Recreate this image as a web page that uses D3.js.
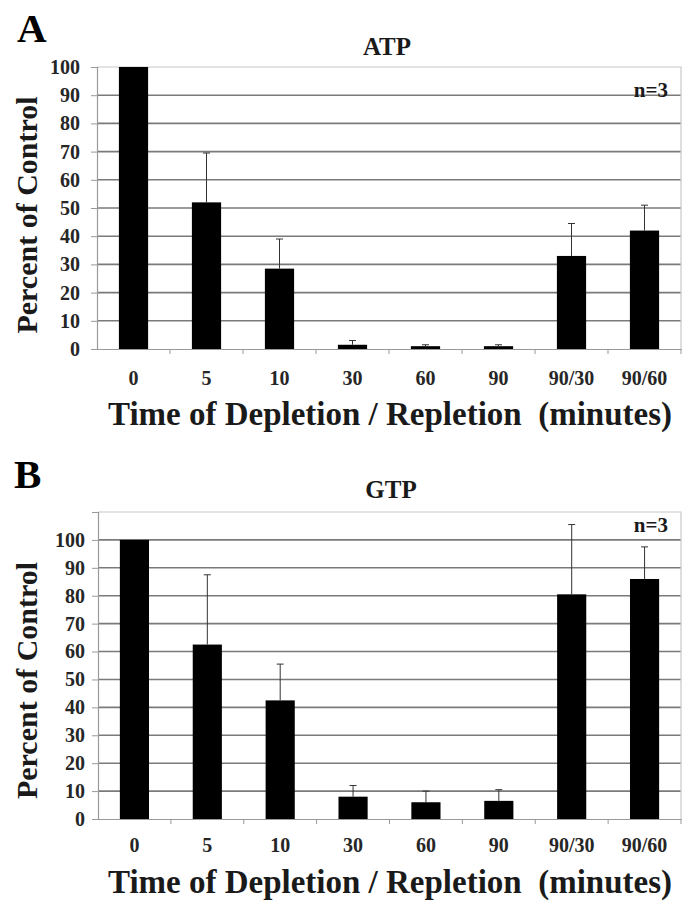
<!DOCTYPE html>
<html>
<head>
<meta charset="utf-8">
<script src="https://cdn.jsdelivr.net/npm/d3@7"></script>
<style>
  body { margin: 0; background: #fff; }
  svg text { font-family: 'Liberation Serif', 'DejaVu Serif', serif !important; font-weight: bold; }
</style>
</head>
<body>
<svg id="fig" width="686" height="901"></svg>
<script>
// ------------------------------------------------------------------
// Data
// ------------------------------------------------------------------
var categories = ["0", "5", "10", "30", "60", "90", "90/30", "90/60"]

var atpMean = [100, 52, 28.5, 1.5, 1, 1, 33, 42]
var atpSd   = [0, 17.5, 10.5, 1.5, 0.5, 0.5, 11.5, 9]

var gtpMean = [100, 62.5, 42.5, 8, 6, 6.5, 80.5, 86]
var gtpSd   = [0, 25, 13, 4, 4, 4, 25, 11.5]

var atpTicks = [0, 10, 20, 30, 40, 50, 60, 70, 80, 90, 100]
var gtpTicks = [0, 10, 20, 30, 40, 50, 60, 70, 80, 90, 100, 110]
var gtpLabels = [0, 10, 20, 30, 40, 50, 60, 70, 80, 90, 100]

var FONT = "'Liberation Serif', 'DejaVu Serif', serif"

var svg = d3.select("#fig")
  .attr("font-family", FONT)
  .attr("font-weight", "bold")

svg.append("rect").attr("width", 686).attr("height", 901).attr("fill", "#fff")

// ------------------------------------------------------------------
// One bar panel
// ------------------------------------------------------------------
function panel(p) {

  var g = svg.append("g")

  var x = d3.scaleBand()
    .domain(categories)
    .range([p.left, p.right])
    .paddingInner(0.6)
    .paddingOuter(0.3)

  var y = d3.scaleLinear()
    .domain([0, p.max])
    .range([p.bottom, p.top])

  var rows = categories.map(function(c, i) {
    return {cat: c, mean: p.mean[i], sd: p.sd[i]}
  })

  // gridlines
  g.selectAll("line.grid")
    .data(p.ticks.filter(function(t) { return t > 0 && t < p.max }))
    .join("line")
      .attr("class", "grid")
      .attr("x1", p.left).attr("x2", p.right)
      .attr("y1", function(t) { return y(t) }).attr("y2", function(t) { return y(t) })
      .attr("stroke", "#7a7a7a")
      .attr("stroke-width", 1.6)

  // light frame top / right
  g.append("path")
    .attr("d", "M" + p.left + "," + y(p.max) + "H" + p.right + "V" + y(0))
    .attr("fill", "none")
    .attr("stroke", "#c8c8c8")
    .attr("stroke-width", 1.2)

  // y axis
  var yAxis = d3.axisLeft(y)
    .tickValues(p.ticks)
    .tickSize(6)
    .tickPadding(p.yPad)
    .tickFormat(function(t) { return p.labels.indexOf(t) >= 0 ? t : "" })

  var ya = g.append("g")
    .attr("transform", "translate(" + p.left + ",0)")
    .call(yAxis)
    .attr("font-family", FONT)
    .attr("font-size", 20)
  ya.select(".domain").attr("stroke", "#999").attr("stroke-width", 1.2)
  ya.selectAll(".tick line").attr("stroke", "#999")
  ya.selectAll(".tick text")
    .attr("font-family", FONT)
    .attr("fill", "#262626")

  // x axis: labels centred on bars, ticks on the category borders
  var xAxis = d3.axisBottom(x).tickSize(0).tickPadding(p.xPad)
  var xa = g.append("g")
    .attr("transform", "translate(0," + y(0) + ")")
    .call(xAxis)
    .attr("font-family", FONT)
    .attr("font-size", 20)
  xa.select(".domain").attr("stroke", "#999").attr("stroke-width", 1.2)
  xa.selectAll(".tick text")
    .attr("font-family", FONT)
    .attr("fill", "#262626")

  var step = x.step()
  g.selectAll("line.xtick")
    .data(categories)
    .join("line")
      .attr("class", "xtick")
      .attr("x1", function(c) { return x(c) + x.bandwidth() + step * x.paddingInner() / 2 })
      .attr("x2", function(c) { return x(c) + x.bandwidth() + step * x.paddingInner() / 2 })
      .attr("y1", y(0)).attr("y2", y(0) + 5)
      .attr("stroke", "#999")

  // bars
  g.selectAll("rect.bar")
    .data(rows)
    .join("rect")
      .attr("class", "bar")
      .attr("x", function(d) { return x(d.cat) })
      .attr("width", x.bandwidth())
      .attr("y", function(d) { return y(d.mean) })
      .attr("height", function(d) { return y(0) - y(d.mean) })
      .attr("fill", "#000")

  // error bars (upper only)
  var err = g.selectAll("g.err")
    .data(rows.filter(function(d) { return d.sd > 0 }))
    .join("g")
      .attr("class", "err")
      .attr("stroke", "#333")
      .attr("stroke-width", 1)

  err.append("line")
    .attr("x1", function(d) { return x(d.cat) + x.bandwidth() / 2 })
    .attr("x2", function(d) { return x(d.cat) + x.bandwidth() / 2 })
    .attr("y1", function(d) { return y(d.mean) })
    .attr("y2", function(d) { return y(d.mean + d.sd) })

  err.append("line")
    .attr("x1", function(d) { return x(d.cat) + x.bandwidth() / 2 - 3.5 })
    .attr("x2", function(d) { return x(d.cat) + x.bandwidth() / 2 + 3.5 })
    .attr("y1", function(d) { return y(d.mean + d.sd) })
    .attr("y2", function(d) { return y(d.mean + d.sd) })

  // texts
  g.append("text")
    .attr("x", p.letterX).attr("y", p.letterY)
    .attr("font-size", 41)
    .attr("fill", "#000")
    .text(p.letter)

  g.append("text")
    .attr("x", p.titleX).attr("y", p.titleY)
    .attr("text-anchor", "middle")
    .attr("font-size", 25)
    .attr("fill", "#1a1a1a")
    .text(p.title)

  g.append("text")
    .attr("x", 668).attr("y", p.nY)
    .attr("text-anchor", "end")
    .attr("font-size", 21)
    .attr("fill", "#1a1a1a")
    .text("n=3")

  g.append("text")
    .attr("transform", "translate(37," + ((y(0) + y(p.max)) / 2 + p.yTitleShift) + ") rotate(-90)")
    .attr("text-anchor", "middle")
    .attr("font-size", 30)
    .attr("fill", "#1a1a1a")
    .text("Percent of Control")

  g.append("text")
    .attr("x", 390).attr("y", p.xTitleY)
    .attr("text-anchor", "middle")
    .attr("font-size", 33)
    .attr("fill", "#1a1a1a")
    .style("white-space", "pre")
    .text("Time of Depletion / Repletion  (minutes)")
}

panel({
  letter: "A", letterX: 17, letterY: 42,
  title: "ATP", titleX: 387, titleY: 55,
  nY: 97,
  mean: atpMean, sd: atpSd,
  ticks: atpTicks, labels: atpTicks, max: 100,
  left: 97, right: 681, top: 67, bottom: 349,
  yPad: 11, xPad: 22, yTitleShift: 7,
  xTitleY: 425
})

panel({
  letter: "B", letterX: 14, letterY: 488,
  title: "GTP", titleX: 391, titleY: 498,
  nY: 532,
  mean: gtpMean, sd: gtpSd,
  ticks: gtpTicks, labels: gtpLabels, max: 110,
  left: 98, right: 681, top: 512, bottom: 819,
  yPad: 7, xPad: 19, yTitleShift: 15,
  xTitleY: 893
})
</script>
</body>
</html>
